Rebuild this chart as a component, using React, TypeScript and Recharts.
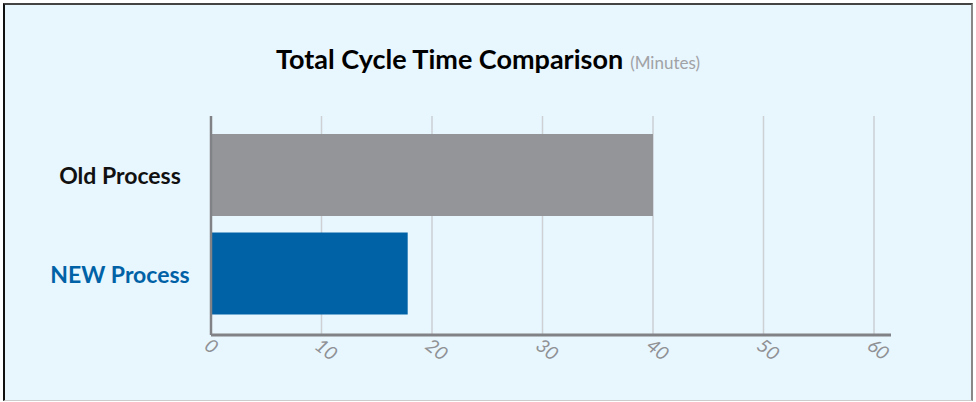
import React from 'react';
import { BarChart, Bar, Cell, XAxis, YAxis, CartesianGrid } from 'recharts';

const categories = ['Old Process', 'NEW Process'];
const minutes = [40, 17.8];
const xTicks = [0, 10, 20, 30, 40, 50, 60];

const BAR_COLORS = ['#939598', '#0062a6'];
const LABEL_COLORS = ['#111111', '#0062a6'];
const X_PAD_RIGHT = 17;

const data = categories.map((name, i) => ({ name, minutes: minutes[i] }));

const CategoryTick = (props: any) => {
  const { y, payload, index } = props;
  return (
    <text
      x={120}
      y={y}
      dy={9}
      textAnchor="middle"
      fontFamily="Lato, 'Open Sans', sans-serif"
      fontWeight={700}
      fontSize={23}
      fill={LABEL_COLORS[index] || '#111'}
    >
      {payload.value}
    </text>
  );
};

const MinuteTick = (props: any) => {
  const { x, y, payload } = props;
  return (
    <g transform={`translate(${x - 8},${y + 5})`}>
      <text
        transform="rotate(38)"
        textAnchor="start"
        fontFamily="Lato, 'Open Sans', sans-serif"
        fontStyle="italic"
        fontSize={19}
        fill="#8f9194"
      >
        {payload.value}
      </text>
    </g>
  );
};

// grid only on the tick values (skip the padded right edge)
const gridX = ({ xAxis, offset }: any) => {
  const s = xAxis && xAxis.scale;
  if (typeof s === 'function') return xTicks.map((t) => s(t));
  if (s && typeof s.map === 'function') return xTicks.map((t) => s.map(t));
  const w = offset.width - X_PAD_RIGHT;
  return xTicks.map((t) => offset.left + (t / 60) * w);
};

const App = () => {
  return (
    <div
      style={{
        position: 'absolute',
        left: 0,
        top: 0,
        width: 976,
        height: 402,
        background: '#ffffff',
      }}
    >
      <div
        style={{
          position: 'absolute',
          left: 3,
          top: 3,
          width: 970,
          height: 398,
          background: '#e8f6fe',
          borderTop: '2px solid #444',
          borderLeft: '2px solid #111',
          borderRight: '2px solid #888',
          borderBottom: '1px solid #ccc',
          boxSizing: 'border-box',
        }}
      />
      <div
        style={{
          position: 'absolute',
          left: 0,
          top: 42,
          width: 976,
          textAlign: 'center',
          fontFamily: "Lato, 'Open Sans', sans-serif",
          whiteSpace: 'nowrap',
        }}
      >
        <span style={{ fontWeight: 700, fontSize: 27, color: '#000' }}>
          Total Cycle Time Comparison
        </span>
        <span style={{ fontSize: 17, color: '#a0a2a5', marginLeft: 7 }}>(Minutes)</span>
      </div>
      <div style={{ position: 'absolute', left: 0, top: 0 }}>
        <BarChart
          width={976}
          height={402}
          data={data}
          layout="vertical"
          margin={{ top: 116, right: 85, left: 0, bottom: 0 }}
        >
          <CartesianGrid
            horizontal={false}
            stroke="#cdd1d4"
            strokeWidth={1.5}
            verticalCoordinatesGenerator={gridX}
          />
          <XAxis
            type="number"
            domain={[0, 60]}
            ticks={xTicks}
            interval={0}
            padding={{ left: 0, right: X_PAD_RIGHT }}
            height={67}
            tickLine={false}
            axisLine={{ stroke: '#808285', strokeWidth: 3 }}
            tick={<MinuteTick />}
          />
          <YAxis
            type="category"
            dataKey="name"
            width={211}
            padding={{ top: 10, bottom: 12 }}
            tickLine={false}
            axisLine={{ stroke: '#808285', strokeWidth: 2.5 }}
            tick={<CategoryTick />}
          />
          <Bar dataKey="minutes" barSize={82} isAnimationActive={false}>
            {data.map((_, i) => (
              <Cell key={i} fill={BAR_COLORS[i]} />
            ))}
          </Bar>
        </BarChart>
      </div>
    </div>
  );
};

export default App;
